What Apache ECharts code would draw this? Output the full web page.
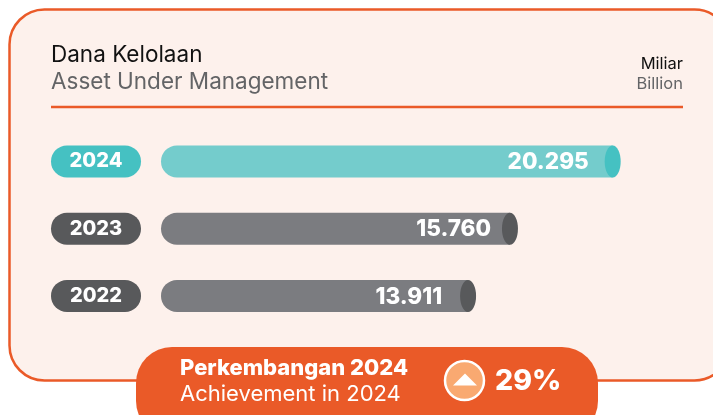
<!DOCTYPE html>
<html><head><meta charset="utf-8">
<style>html,body{margin:0;padding:0;background:#fff}#c{width:713px;height:415px}</style>
<script src="https://cdn.jsdelivr.net/npm/echarts@6/dist/echarts.min.js"></script>
</head><body><div id="c"></div>
<script>
const years = ['2024','2023','2022'];
const values = [20295, 15760, 13911];
const valueLabels = ['20.295','15.760','13.911'];
const titleId = 'Dana Kelolaan';
const titleEn = 'Asset Under Management';
const unitId = 'Miliar';
const unitEn = 'Billion';
const growthId = 'Perkembangan 2024';
const growthEn = 'Achievement in 2024';
const growthValue = '29%';

const FONT = 'Inter';
const ORANGE = '#EA5A28';
const palette = {
  '2024': {bar:'#74CCCC', cap:'#45C1C2'},
  '2023': {bar:'#7B7C80', cap:'#58595B'},
  '2022': {bar:'#7B7C80', cap:'#58595B'}
};
const labelInset = {'2024':32,'2023':27,'2022':34};
const chart = echarts.init(document.getElementById('c'), null, {renderer:'canvas'});
const txt = (x,y,text,size,weight,fill,align,z) => ({type:'text',z:z||1,x,y,style:{text,fontFamily:FONT,fontSize:size,fontWeight:weight,fill,align:align||'left',verticalAlign:'middle'}});
chart.setOption({
  animation:false,
  backgroundColor:'#fff',
  grid:{left:161,top:127.75,width:498.3,height:201.75,containLabel:false},
  xAxis:{type:'value',min:0,max:22000,show:false},
  yAxis:{type:'category',inverse:true,data:years,
    axisLine:{show:false},axisTick:{show:false},splitLine:{show:false},
    axisLabel:{margin:20,
      formatter:v=> v==='2024' ? '{a|'+v+'}' : '{b|'+v+'}',
      rich:{
        a:{backgroundColor:'#45C1C2',color:'#fff',fontFamily:FONT,fontWeight:800,fontSize:20,width:90,height:32,lineHeight:32,borderRadius:16,align:'center'},
        b:{backgroundColor:'#58595B',color:'#fff',fontFamily:FONT,fontWeight:800,fontSize:20,width:90,height:32,lineHeight:32,borderRadius:16,align:'center'}
      }}},
  graphic:{elements:[
    {type:'rect',z:0,shape:{x:9.5,y:9.5,width:720,height:371,r:35},style:{fill:'#FDF1EC',stroke:ORANGE,lineWidth:2.5}},
    {type:'line',z:1,shape:{x1:51,y1:107,x2:683,y2:107},style:{stroke:ORANGE,lineWidth:2.5}},
    txt(51,55.5,titleId,22.5,400,'#111'),
    txt(51,82,titleEn,22.5,400,'#636466'),
    txt(683,64.5,unitId,16.5,400,'#111','right'),
    txt(683,84,unitEn,16.5,400,'#636466','right'),
    {type:'rect',z:5,shape:{x:136,y:347,width:462,height:90,r:36},style:{fill:ORANGE}},
    txt(180,368.5,growthId,22,800,'#fff','left',6),
    txt(180,394,growthEn,22,400,'#fff','left',6),
    {type:'circle',z:6,shape:{cx:464.5,cy:380.5,r:19.5},style:{fill:'#F9A971',stroke:'#fff',lineWidth:2.5}},
    {type:'polygon',z:7,shape:{points:[[453,385.5],[465,373.5],[477,385.5]]},style:{fill:'#fff'}},
    txt(495,381,growthValue,28.5,800,'#fff','left',6)
  ]},
  series:[{
    type:'custom',
    coordinateSystem:'cartesian2d',
    encode:{x:0,y:1},
    data:values.map((v,i)=>[v,years[i]]),
    renderItem:(params,api)=>{
      const year = years[params.dataIndex];
      const end = api.coord([api.value(0),params.dataIndex]);
      const start = api.coord([0,params.dataIndex]);
      const h = 32, rx = 8;
      const p = palette[year];
      return {type:'group',children:[
        {type:'rect',shape:{x:start[0],y:end[1]-h/2,width:end[0]-start[0]-rx,height:h,r:[16,0,0,16]},style:{fill:p.bar}},
        {type:'ellipse',shape:{cx:end[0]-rx,cy:end[1],rx:rx,ry:h/2},style:{fill:p.cap}},
        {type:'text',x:end[0]-labelInset[year],y:end[1]+1,style:{text:valueLabels[params.dataIndex],fontFamily:FONT,fontSize:22.5,fontWeight:800,fill:'#fff',align:'right',verticalAlign:'middle'}}
      ]};
    }
  }]
});
</script></body></html>
